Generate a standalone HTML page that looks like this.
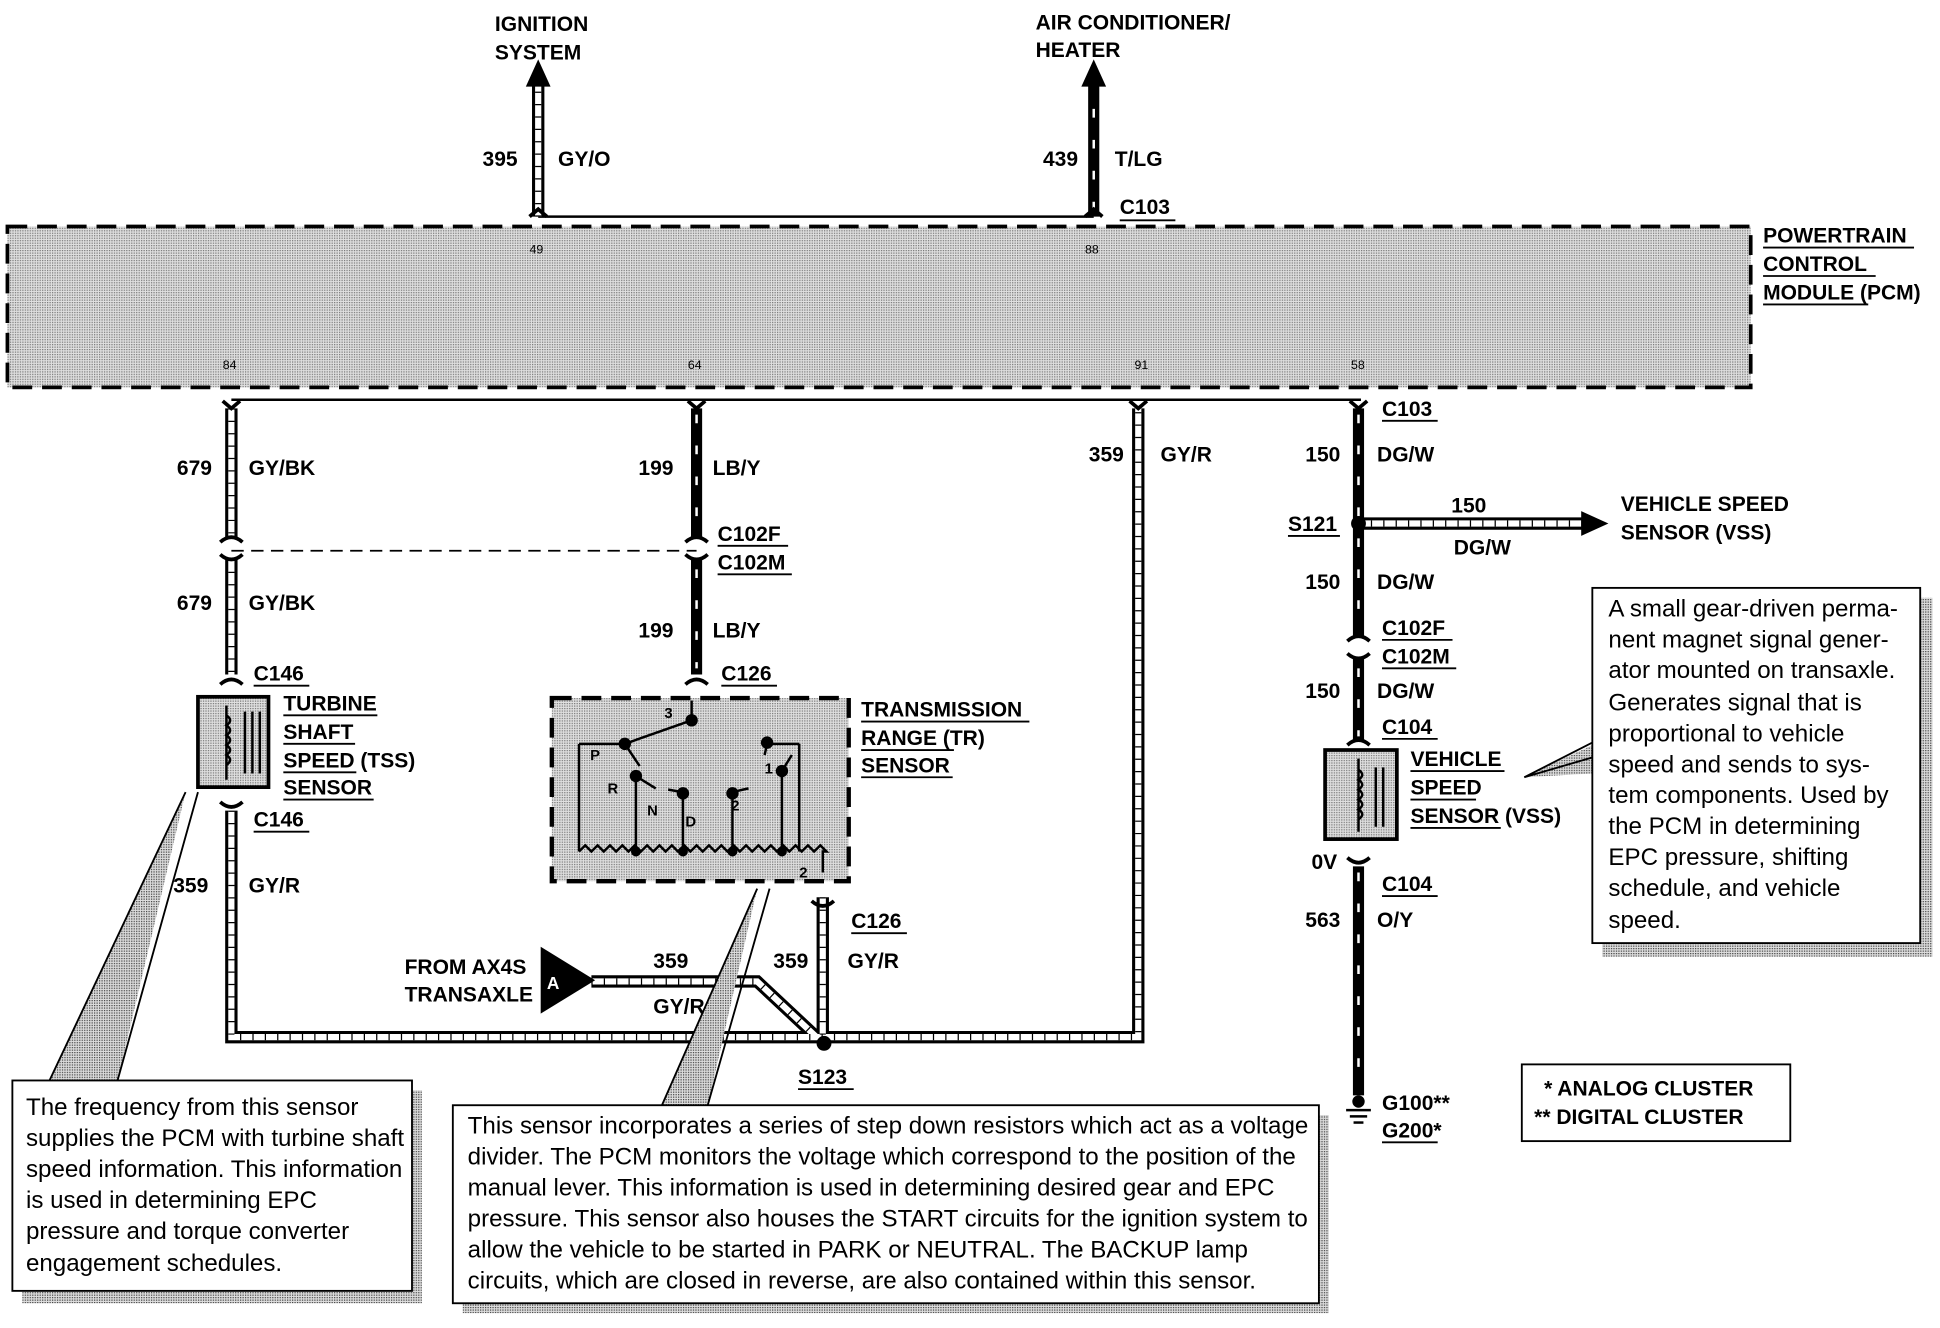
<!DOCTYPE html>
<html><head><meta charset="utf-8"><style>
html,body{margin:0;padding:0;background:#fff;}
svg{display:block;}
text{font-family:"Liberation Sans",Arial,sans-serif;}
.b{font-weight:bold;font-size:17px;}
.t{font-size:19.5px;}
.p{font-size:10px;}
</style></head><body>
<svg width="1940" height="1328" viewBox="0 0 1568 1073" preserveAspectRatio="none" xmlns="http://www.w3.org/2000/svg">
<defs>
<pattern id="dots" width="2" height="2" patternUnits="userSpaceOnUse"><rect width="2" height="2" fill="#e0e0e0"/><rect width="1" height="1" fill="#777"/></pattern>
<pattern id="shad" width="2" height="2" patternUnits="userSpaceOnUse"><rect width="2" height="2" fill="#ddd"/><rect width="1" height="1" fill="#444"/></pattern>
</defs>

<rect x="6" y="183" width="1409" height="130" fill="url(#dots)" stroke="#000" stroke-width="3" stroke-dasharray="16,8"/>
<g class="b">
<text x="1425" y="196">POWERTRAIN</text><text x="1425" y="219">CONTROL</text><text x="1425" y="242">MODULE (PCM)</text>
</g>
<g stroke="#000" stroke-width="1.5"><line x1="1425" y1="200" x2="1547" y2="200"/><line x1="1425" y1="223" x2="1516" y2="223"/><line x1="1425" y1="246" x2="1510" y2="246"/></g>
<g class="p"><text x="428" y="205">49</text><text x="877" y="205">88</text><text x="180" y="298">84</text><text x="556" y="298">64</text><text x="917" y="298">91</text><text x="1092" y="298">58</text></g>

<line x1="435" y1="175" x2="884" y2="175" stroke="#000" stroke-width="2"/>
<line x1="187" y1="323" x2="1100" y2="323" stroke="#000" stroke-width="2"/>

<g fill="none" stroke-linejoin="miter">
<path d="M435 175V68 M187 330V435 M187 452V545 M187 655V838H920V330 M665 725V838 M478 793H612L660 838 M1098 423H1280" stroke="#000" stroke-width="10"/>
<path d="M435 175V68 M187 330V435 M187 452V545 M187 655V838H920V330 M665 725V838 M478 793H612L660 838 M1098 423H1280" stroke="#fff" stroke-width="5"/>
<path d="M435 175V68 M187 330V435 M187 452V545 M187 655V838H920V330 M665 725V838 M478 793H612L660 838 M1098 423H1280" stroke="#000" stroke-width="5" stroke-dasharray="1,9"/>
</g>
<g fill="none" stroke="#000" stroke-width="9">
<path d="M884 175V66 M563 330V435 M563 452V545 M1098 330V515 M1098 532V598 M1098 700V885"/>
</g>
<g fill="none" stroke="#fff" stroke-width="2" stroke-dasharray="7,18">
<path d="M884 170V70 M563 335V430 M563 460V540 M1098 335V510 M1098 540V595 M1098 705V880"/>
</g>
<polygon points="425,70 445,70 435,48" fill="#000"/>
<polygon points="874,70 894,70 884,48" fill="#000"/>
<polygon points="1278,413 1278,433 1300,423" fill="#000"/>
<g fill="none" stroke="#000" stroke-width="3">
<path d="M178 438q9 -8 18 0 M178 448q9 8 18 0 M554 438q9 -8 18 0 M554 448q9 8 18 0 M1089 518q9 -8 18 0 M1089 528q9 8 18 0"/>
<path d="M178 553q9 -8 18 0 M178 648q9 8 18 0 M554 553q9 -8 18 0 M1089 602q9 -8 18 0 M1089 693q9 8 18 0 M656 728q9 8 18 0 M428 175 l7 -6 l7 6 M877 175 l7 -6 l7 6"/>
<path d="M180 324l7 6l7 -6 M556 324l7 6l7 -6 M913 324l7 6l7 -6 M1091 324l7 6l7 -6"/>
</g>
<line x1="187" y1="445" x2="563" y2="445" stroke="#000" stroke-width="1.5" stroke-dasharray="10,6"/>
<circle cx="666" cy="843" r="6" fill="#000"/>
<circle cx="1098" cy="423" r="6" fill="#000"/>
<circle cx="1098" cy="890" r="5" fill="#000"/>
<g stroke="#000" stroke-width="2"><line x1="1088" y1="897" x2="1108" y2="897"/><line x1="1091" y1="902" x2="1105" y2="902"/><line x1="1094" y1="907" x2="1102" y2="907"/></g>

<g class="b">
<text x="400" y="25">IGNITION</text><text x="400" y="48">SYSTEM</text>
<text x="837" y="24">AIR CONDITIONER/</text><text x="837" y="46">HEATER</text>
<text x="390" y="134">395</text><text x="451" y="134">GY/O</text>
<text x="843" y="134">439</text><text x="901" y="134">T/LG</text>
<text x="905" y="173">C103</text>
<text x="143" y="384">679</text><text x="201" y="384">GY/BK</text>
<text x="143" y="493">679</text><text x="201" y="493">GY/BK</text>
<text x="205" y="550">C146</text><text x="205" y="668">C146</text>
<text x="229" y="574">TURBINE</text><text x="229" y="597">SHAFT</text><text x="229" y="620">SPEED (TSS)</text><text x="229" y="642">SENSOR</text>
<text x="140" y="721">359</text><text x="201" y="721">GY/R</text>
<text x="516" y="384">199</text><text x="576" y="384">LB/Y</text>
<text x="580" y="437">C102F</text><text x="580" y="460">C102M</text>
<text x="516" y="515">199</text><text x="576" y="515">LB/Y</text>
<text x="583" y="550">C126</text>
<text x="696" y="579">TRANSMISSION</text><text x="696" y="602">RANGE (TR)</text><text x="696" y="624">SENSOR</text>
<text x="880" y="373">359</text><text x="938" y="373">GY/R</text>
<text x="688" y="750">C126</text><text x="625" y="782">359</text><text x="685" y="782">GY/R</text>
<text x="528" y="782">359</text><text x="528" y="819">GY/R</text>
<text x="327" y="787">FROM AX4S</text><text x="327" y="809">TRANSAXLE</text>
<text x="645" y="876">S123</text>
<text x="1117" y="336">C103</text>
<text x="1055" y="373">150</text><text x="1113" y="373">DG/W</text>
<text x="1041" y="429">S121</text>
<text x="1173" y="414">150</text><text x="1175" y="448">DG/W</text>
<text x="1310" y="413">VEHICLE SPEED</text><text x="1310" y="436">SENSOR (VSS)</text>
<text x="1055" y="476">150</text><text x="1113" y="476">DG/W</text>
<text x="1117" y="513">C102F</text><text x="1117" y="536">C102M</text>
<text x="1055" y="564">150</text><text x="1113" y="564">DG/W</text>
<text x="1117" y="593">C104</text>
<text x="1140" y="619">VEHICLE</text><text x="1140" y="642">SPEED</text><text x="1140" y="665">SENSOR (VSS)</text>
<text x="1060" y="702">0V</text><text x="1117" y="720">C104</text>
<text x="1055" y="749">563</text><text x="1113" y="749">O/Y</text>
<text x="1117" y="897">G100**</text><text x="1117" y="919">G200*</text>
<text x="1248" y="885">*  ANALOG CLUSTER</text><text x="1240" y="908">**  DIGITAL CLUSTER</text>
</g>
<g stroke="#000" stroke-width="1.5">
<line x1="905" y1="178" x2="950" y2="178"/>
<line x1="205" y1="554" x2="250" y2="554"/><line x1="205" y1="672" x2="250" y2="672"/>
<line x1="229" y1="578" x2="305" y2="578"/><line x1="229" y1="601" x2="287" y2="601"/><line x1="229" y1="624" x2="288" y2="624"/><line x1="229" y1="646" x2="302" y2="646"/>
<line x1="580" y1="441" x2="637" y2="441"/><line x1="580" y1="464" x2="640" y2="464"/><line x1="583" y1="554" x2="628" y2="554"/>
<line x1="696" y1="583" x2="832" y2="583"/><line x1="696" y1="606" x2="771" y2="606"/><line x1="696" y1="628" x2="770" y2="628"/>
<line x1="688" y1="754" x2="733" y2="754"/><line x1="645" y1="880" x2="690" y2="880"/>
<line x1="1117" y1="340" x2="1162" y2="340"/><line x1="1041" y1="433" x2="1083" y2="433"/>
<line x1="1117" y1="517" x2="1174" y2="517"/><line x1="1117" y1="540" x2="1177" y2="540"/><line x1="1117" y1="597" x2="1162" y2="597"/>
<line x1="1140" y1="623" x2="1216" y2="623"/><line x1="1140" y1="646" x2="1193" y2="646"/><line x1="1140" y1="669" x2="1213" y2="669"/>
<line x1="1117" y1="724" x2="1162" y2="724"/><line x1="1117" y1="923" x2="1162" y2="923"/>
</g>

<rect x="160" y="563" width="57" height="73" fill="url(#dots)" stroke="#000" stroke-width="3"/>
<path d="M183 570V630 M198 575V625 M204 575V625 M210 575V625" stroke="#000" stroke-width="2"/>
<path d="M183 578q6 4 0 8q6 4 0 8q6 4 0 8q6 4 0 8q6 4 0 8" fill="none" stroke="#000" stroke-width="2"/>
<rect x="1071" y="606" width="58" height="72" fill="url(#dots)" stroke="#000" stroke-width="3"/>
<path d="M1098 613V672 M1112 620V668 M1118 620V668" stroke="#000" stroke-width="2"/>
<path d="M1098 622q6 4 0 8q6 4 0 8q6 4 0 8q6 4 0 8q6 4 0 8" fill="none" stroke="#000" stroke-width="2"/>

<rect x="446" y="564" width="240" height="148" fill="url(#dots)" stroke="#000" stroke-width="3.5" stroke-dasharray="16,8"/>
<g stroke="#000" stroke-width="2" fill="none">
<path d="M468 601H505 M468 601V688 M514 629V688 M552 640V688 M592 640V688 M632 623V688 M646 601H620 M646 601V688"/>
<path d="M468 688l5 -5l5 5l5 -5l5 5l5 -5l5 5l5 -5l5 5l5 -5l5 5l5 -5l5 5l5 -5l5 5l5 -5l5 5l5 -5l5 5l5 -5l5 5l5 -5l5 5l5 -5l5 5l5 -5l5 5l5 -5l5 5l5 -5l5 5l5 -5l5 5l5 -5l5 5l5 -5l5 5l5 -5l5 5l5 -5l5 5H665V705"/>
<path d="M559 582V566 M559 582L505 601 M505 601L517 619 M517 629L530 637 M552 640L540 638 M592 640L605 637 M632 623L640 610 M620 601L618 610"/>
</g>
<g fill="#000">
<circle cx="559" cy="582" r="5"/><circle cx="505" cy="601" r="5"/><circle cx="514" cy="627" r="5"/><circle cx="552" cy="641" r="5"/><circle cx="592" cy="641" r="5"/><circle cx="632" cy="623" r="5"/><circle cx="620" cy="600" r="5"/>
<circle cx="514" cy="688" r="4"/><circle cx="552" cy="688" r="4"/><circle cx="592" cy="688" r="4"/><circle cx="632" cy="688" r="4"/>
</g>
<g font-weight="bold" font-size="12" font-family="Liberation Sans,sans-serif">
<text x="537" y="580">3</text><text x="477" y="614">P</text><text x="491" y="641">R</text><text x="523" y="659">N</text><text x="554" y="668">D</text><text x="591" y="655">2</text><text x="618" y="625">1</text><text x="646" y="709">2</text>
</g>

<polygon points="437,765 437,819 481,792" fill="#000"/>
<text x="442" y="799" fill="#fff" font-weight="bold" font-size="14">A</text>

<polygon points="40,873 150,640 95,873" fill="url(#shad)"/>
<path d="M40 873L150 640 M95 873L160 640" stroke="#000" stroke-width="1.5" fill="none"/>
<polygon points="535,893 612,718 572,893" fill="url(#shad)"/>
<path d="M535 893L612 718 M572 893L622 718" stroke="#000" stroke-width="1.5" fill="none"/>
<polygon points="1287,602 1232,628 1287,625" fill="url(#shad)"/>
<path d="M1287 600L1232 628L1287 612" stroke="#000" stroke-width="1.5" fill="none"/>

<rect x="18" y="881" width="323" height="172" fill="url(#shad)"/>
<rect x="10" y="873" width="323" height="170" fill="#fff" stroke="#000" stroke-width="1.5"/>
<g class="t"><text x="21" y="901">The frequency from this sensor</text><text x="21" y="926">supplies the PCM with turbine shaft</text><text x="21" y="951">speed information. This information</text><text x="21" y="976">is used in determining EPC</text><text x="21" y="1001">pressure and torque converter</text><text x="21" y="1027">engagement schedules.</text></g>

<rect x="374" y="901" width="700" height="160" fill="url(#shad)"/>
<rect x="366" y="893" width="700" height="160" fill="#fff" stroke="#000" stroke-width="1.5"/>
<g class="t"><text x="378" y="916">This sensor incorporates a series of step down resistors which act as a voltage</text><text x="378" y="941">divider. The PCM monitors the voltage which correspond to the position of the</text><text x="378" y="966">manual lever. This information is used in determining desired gear and EPC</text><text x="378" y="991">pressure. This sensor also houses the START circuits for the ignition system to</text><text x="378" y="1016">allow the vehicle to be started in PARK or NEUTRAL. The BACKUP lamp</text><text x="378" y="1041">circuits, which are closed in reverse, are also contained within this sensor.</text></g>

<rect x="1295" y="483" width="267" height="290" fill="url(#shad)"/>
<rect x="1287" y="475" width="265" height="287" fill="#fff" stroke="#000" stroke-width="1.5"/>
<g class="t"><text x="1300" y="498">A small gear-driven perma-</text><text x="1300" y="523">nent magnet signal gener-</text><text x="1300" y="548">ator mounted on transaxle.</text><text x="1300" y="574">Generates signal that is</text><text x="1300" y="599">proportional to vehicle</text><text x="1300" y="624">speed and sends to sys-</text><text x="1300" y="649">tem components. Used by</text><text x="1300" y="674">the PCM in determining</text><text x="1300" y="699">EPC pressure, shifting</text><text x="1300" y="724">schedule, and vehicle</text><text x="1300" y="750">speed.</text></g>

<rect x="1230" y="860" width="217" height="62" fill="#fff" stroke="#000" stroke-width="1.5"/>
<text class="b" x="1248" y="885">*  ANALOG CLUSTER</text><text class="b" x="1240" y="908">**  DIGITAL CLUSTER</text>
</svg>
</body></html>
